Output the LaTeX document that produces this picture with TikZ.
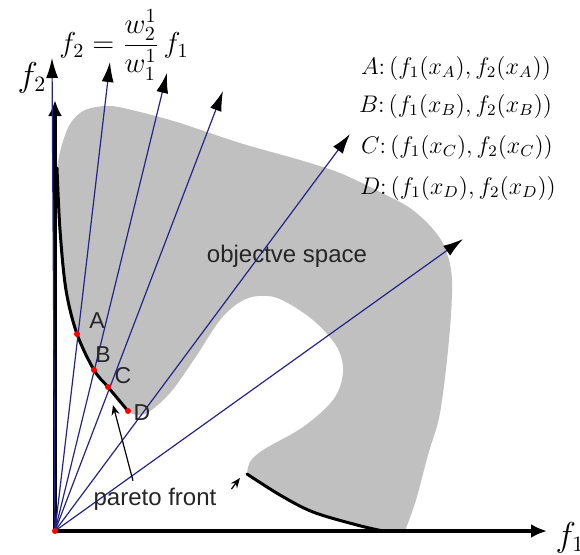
\documentclass[tikz,border=0pt]{standalone}
\usepackage{amsmath}
\usepackage{fontspec}
\setsansfont{Liberation Sans}
\usetikzlibrary{positioning,arrows.meta}
\definecolor{raynavy}{RGB}{36,36,140}
\definecolor{spacegray}{RGB}{192,192,192}

\begin{document}
\begin{tikzpicture}[x=0.5pt, y=-0.5pt,
    ray/.style={draw=raynavy, line width=0.6pt, -{Latex[length=10pt,width=6pt,color=black]}},
    axis/.style={line width=2pt, -{Latex[length=8pt,width=7pt]}},
    front/.style={line width=1.5pt, line cap=round},
    ptr/.style={line width=0.6pt, -{Stealth[length=5pt,width=4pt]}},
    dot/.style={circle, fill=red, inner sep=0pt, minimum size=3pt},
    lbl/.style={font=\sffamily\fontsize{11.5}{13}\selectfont, text=black!85},
    coord/.style={font=\fontsize{11.5}{14}\selectfont, anchor=west}
]
    \useasboundingbox (0,0) rectangle (580,554);

    % objective space
    \fill[spacegray] plot[smooth, tension=0.55] coordinates {(57,168) (60,230) (66,290) (77,334) (94,370) (108,387) (128,411) (145,414) (170,393) (195,358) (220,320) (240,302) (258,296) (280,299) (313,320) (337,347) (343,373) (333,400) (303,427) (263,450) (250,462) (247,474)}
        -- plot[smooth, tension=0.55] coordinates {(247,474) (280,495) (313,512) (357,525) (383,531)}
        -- (405,531)
        -- plot[smooth, tension=0.55] coordinates {(405,531) (416,500) (428,455) (440,413) (449,340) (452,280) (445,248) (432,228) (410,208) (380,192) (340,173) (300,160) (240,143) (180,123) (140,112) (110,106) (85,110) (70,124) (61,148) (57,168)}
        -- cycle;

    % pareto front
    \draw[front] plot[smooth, tension=0.55] coordinates {(57,168) (60,230) (66,290) (77,334) (94,370) (108,387) (128,411)};
    \draw[front] plot[smooth, tension=0.55] coordinates {(247,474) (280,495) (313,512) (357,525) (383,531)};

    % axes
    \coordinate (O) at (55,531);
    \coordinate (f2end) at (55,100);
    \coordinate (f1end) at (547,531);
    \draw[axis] (O) -- (f2end);
    \draw[axis] (O) -- (f1end);
    \node[font=\fontsize{16}{18}\selectfont] (f2lbl) at (32,78) {$f_2$};
    \node[font=\fontsize{16}{18}\selectfont] (f1lbl) at (570,538) {$f_1$};

    % weight vectors
    \coordinate (w1) at (52,58);
    \coordinate (w2) at (110,62);
    \coordinate (w3) at (167,73);
    \coordinate (w4) at (223,91);
    \coordinate (w5) at (350,134);
    \coordinate (w6) at (463,239);
    \foreach \w in {w1,w2,w3,w4,w5,w6}
        \draw[ray] (O) -- (\w);

    \node[font=\fontsize{14}{16}\selectfont] (weq) at (124,45) {$f_2=\dfrac{w_2^1}{w_1^1}\,f_1$};

    % solutions
    \node[dot] (origin) at (O) {};
    \node[dot] (pA) at (77,334) {};
    \node[dot] (pB) at (94,370) {};
    \node[dot] (pC) at (108,387) {};
    \node[dot] (pD) at (128,411) {};
    \node[lbl] (lA) at (97,321) {A};
    \node[lbl] (lB) at (103,355) {B};
    \node[lbl] (lC) at (123,376) {C};
    \node[lbl] (lD) at (142,413) {D};

    \node[coord] (cA) at (354,68) {$A{:}\,(f_1(x_A),f_2(x_A))$};
    \node[coord] (cB) at (352,106) {$B{:}\,(f_1(x_B),f_2(x_B))$};
    \node[coord] (cC) at (354,147) {$C{:}\,(f_1(x_C),f_2(x_C))$};
    \node[coord] (cD) at (353,188) {$D{:}\,(f_1(x_D),f_2(x_D))$};

    \node[lbl, font=\sffamily\fontsize{12}{14}\selectfont] (space) at (287,256) {objectve space};
    \node[lbl, font=\sffamily\fontsize{12}{14}\selectfont] (pfront) at (155,499) {pareto front};
    \coordinate (tipC) at (113,405);
    \coordinate (tipF) at (240,478);
    \draw[ptr] ([xshift=-11pt]pfront.north) -- (tipC);
    \draw[ptr] ([xshift=4pt,yshift=5pt]pfront.east) -- (tipF);
\end{tikzpicture}
\end{document}
